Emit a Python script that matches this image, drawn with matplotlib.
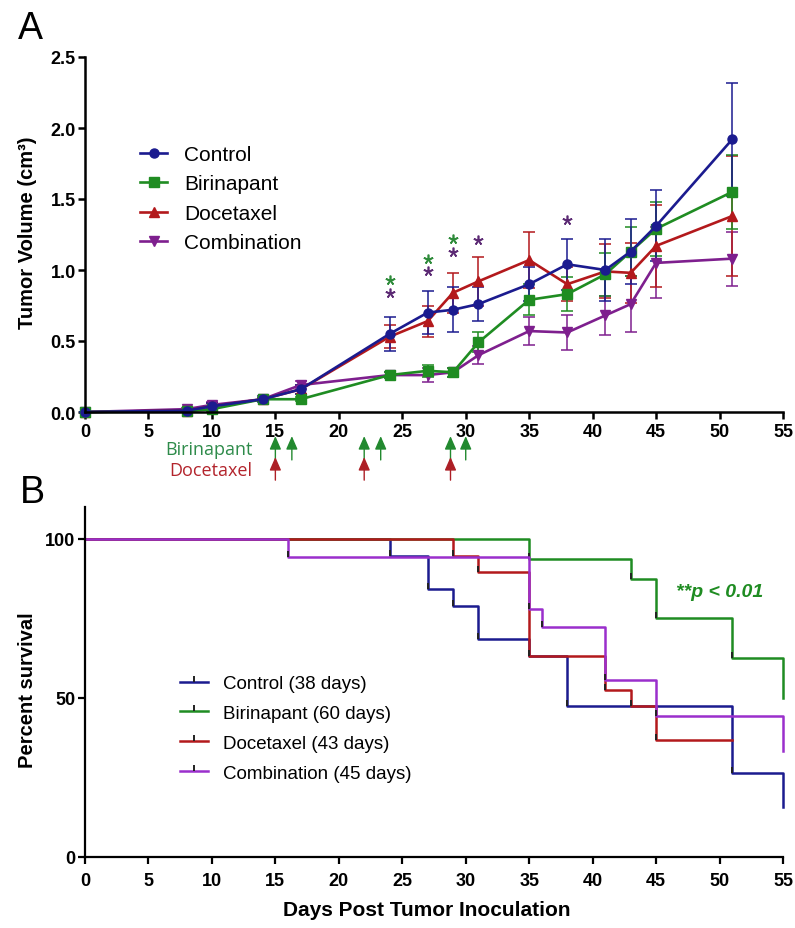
import numpy as np
import matplotlib
matplotlib.use('Agg')
import matplotlib.pyplot as plt
from matplotlib.lines import Line2D

plt.rcParams['font.family'] = ['Liberation Sans', 'DejaVu Sans']

###########################
# Panel A - tumor volumes #
###########################
days = [0, 8, 10, 14, 17, 24, 27, 29, 31, 35, 38, 41, 43, 45, 51]

ctrl = [0, 0.01, 0.04, 0.09, 0.16, 0.55, 0.70, 0.72, 0.76, 0.90, 1.04, 1.00, 1.13, 1.31, 1.92]
ctrl_err = [0, 0.01, 0.02, 0.02, 0.03, 0.12, 0.15, 0.16, 0.12, 0.12, 0.18, 0.22, 0.23, 0.25, 0.40]

biri = [0, 0.005, 0.02, 0.09, 0.09, 0.26, 0.29, 0.28, 0.49, 0.79, 0.83, 0.97, 1.13, 1.29, 1.55]
biri_err = [0, 0.005, 0.01, 0.01, 0.015, 0.02, 0.04, 0.03, 0.07, 0.11, 0.12, 0.15, 0.17, 0.19, 0.26]

doce = [0, 0.01, 0.04, 0.09, 0.16, 0.53, 0.64, 0.84, 0.92, 1.07, 0.90, 0.99, 0.98, 1.17, 1.38]
doce_err = [0, 0.01, 0.02, 0.01, 0.03, 0.08, 0.11, 0.14, 0.17, 0.20, 0.12, 0.19, 0.21, 0.29, 0.42]

comb = [0, 0.02, 0.05, 0.09, 0.19, 0.26, 0.26, 0.28, 0.40, 0.57, 0.56, 0.68, 0.76, 1.05, 1.08]
comb_err = [0, 0.01, 0.02, 0.01, 0.03, 0.02, 0.05, 0.03, 0.065, 0.10, 0.12, 0.14, 0.20, 0.25, 0.19]

# significance stars (day, height)
star_green_x = [24, 27, 29]
star_green_y = [0.93, 1.08, 1.22]
star_purple_x = [24, 27, 29, 31, 38]
star_purple_y = [0.84, 0.99, 1.13, 1.21, 1.35]

# treatment days
biri_doses = [15, 16.3, 22, 23.3, 28.8, 30]
doce_doses = [15, 22, 28.8]

###########################
# Panel B - survival (KM) #
###########################
ctrl_t = [0, 24, 27, 29, 31, 35, 38, 51, 55]
ctrl_s = [100, 94.7, 84.2, 78.9, 68.4, 63.2, 47.4, 26.3, 15.8]

biri_t = [0, 35, 43, 45, 51, 55]
biri_s = [100, 93.8, 87.5, 75.0, 62.5, 50.0]

doce_t = [0, 29, 31, 35, 41, 43, 45, 51]
doce_s = [100, 94.7, 89.5, 63.2, 52.6, 47.4, 36.8, 36.8]

comb_t = [0, 16, 35, 36, 41, 45, 55]
comb_s = [100, 94.4, 77.8, 72.2, 55.6, 44.4, 33.3]

names_A = ['Control', 'Birinapant', 'Docetaxel', 'Combination']
names_B = ['Control (38 days)', 'Birinapant (60 days)', 'Docetaxel (43 days)', 'Combination (45 days)']

c_ctrl = '#1b1b8f'
c_biri = '#1f8c22'
c_doce = '#b3191c'
c_comb = '#7e1f8e'
c_comb_b = '#9a2fcc'

W, H = 795, 929
fig = plt.figure(figsize=(W/100, H/100), dpi=100)

axA = fig.add_axes([85/W, 1 - 413/H, 698/W, 355/H])
axB = fig.add_axes([85/W, 1 - 858/H, 698/W, 350/H])

#########
# A     #
#########
series = [(comb, comb_err, c_comb, 'v'), (doce, doce_err, c_doce, '^'),
          (biri, biri_err, c_biri, 's'), (ctrl, ctrl_err, c_ctrl, 'o')]
handlesA = {}
for vals, err, col, mk in series:
    axA.errorbar(days, vals, yerr=err, color=col, marker=mk, markersize=6.5,
                 lw=1.9, elinewidth=1.1, capsize=4.5, capthick=1.1, clip_on=False)
    handlesA[col] = Line2D([], [], color=col, marker=mk, markersize=6.5, lw=1.9)

axA.set_xlim(0, 55)
axA.set_ylim(0, 2.5)
axA.set_xticks(np.arange(0, 56, 5))
axA.set_yticks(np.arange(0, 2.51, 0.5))
axA.set_yticklabels(['%.1f' % v for v in np.arange(0, 2.51, 0.5)])
for s in ['top', 'right']:
    axA.spines[s].set_visible(False)
for s in ['left', 'bottom']:
    axA.spines[s].set_linewidth(1.8)
axA.tick_params(direction='out', length=5, width=1.8, labelsize=13, pad=1.5)
axA.tick_params(axis='x', pad=3)
for lab in axA.get_xticklabels() + axA.get_yticklabels():
    lab.set_fontweight('bold')
axA.set_ylabel('Tumor Volume (cm³)', fontsize=14.5, fontweight='bold', va='center')
axA.yaxis.set_label_coords(-0.0817, 0.507)

# asterisks drawn as 5-arm asterisk markers
axA.plot(star_green_x, star_green_y, ls='none', marker=(5, 2, 0), markersize=7,
         mew=1.2, color='#2e8b3a')
axA.plot(star_purple_x, star_purple_y, ls='none', marker=(5, 2, 0), markersize=7,
         mew=1.2, color='#5c2a74')

# arrows under the x axis
for x in biri_doses:
    axA.annotate('', xy=(x, -0.068), xytext=(x, -0.135), xycoords=('data', 'axes fraction'),
                 arrowprops=dict(arrowstyle='-|>,head_length=0.8,head_width=0.35',
                                 color='#22892f', lw=1, shrinkA=0, shrinkB=0),
                 annotation_clip=False)
for x in doce_doses:
    axA.annotate('', xy=(x, -0.127), xytext=(x, -0.192), xycoords=('data', 'axes fraction'),
                 arrowprops=dict(arrowstyle='-|>,head_length=0.8,head_width=0.35',
                                 color='#ad1f26', lw=1, shrinkA=0, shrinkB=0),
                 annotation_clip=False)
axA.text(13.2, -0.104, 'Birinapant', transform=axA.get_xaxis_transform(), ha='right',
         va='center', fontsize=13, color='#2e8b4a', family=['Open Sans', 'DejaVu Sans'])
axA.text(13.2, -0.163, 'Docetaxel', transform=axA.get_xaxis_transform(), ha='right',
         va='center', fontsize=13, color='#b3242c', family=['Open Sans', 'DejaVu Sans'])

axA.legend([handlesA[c_ctrl], handlesA[c_biri], handlesA[c_doce], handlesA[c_comb]],
           names_A, loc='upper left', bbox_to_anchor=(140/W, 1 - 146/H),
           bbox_transform=fig.transFigure, frameon=False, fontsize=15,
           handlelength=1.3, handletextpad=0.8, labelspacing=0.5, borderpad=0,
           borderaxespad=0)

#########
# B     #
#########
km = [(ctrl_t, ctrl_s, c_ctrl), (biri_t, biri_s, c_biri),
      (doce_t, doce_s, c_doce), (comb_t, comb_s, c_comb_b)]
tick_mark = [(0, 0), (0, 1)]
for t, sv, col in km:
    axB.step(t, sv, where='post', color=col, lw=1.8, clip_on=False)
    axB.plot(t[1:-1], sv[1:-1], ls='none', marker=tick_mark, markersize=9,
             mew=1.4, color='#222222', clip_on=False)

axB.set_xlim(0, 55)
axB.set_ylim(0, 110)
axB.set_xticks(np.arange(0, 56, 5))
axB.set_yticks([0, 50, 100])
for s in ['top', 'right']:
    axB.spines[s].set_visible(False)
for s in ['left', 'bottom']:
    axB.spines[s].set_linewidth(1.6)
axB.tick_params(direction='out', length=5, width=1.6, labelsize=13, pad=2)
axB.tick_params(axis='x', pad=6)
for lab in axB.get_xticklabels() + axB.get_yticklabels():
    lab.set_fontweight('bold')
axB.set_ylabel('Percent survival', fontsize=14.5, fontweight='bold', va='center')
axB.yaxis.set_label_coords(-0.0817, 0.48)
axB.set_xlabel('Days Post Tumor Inoculation', fontsize=15, fontweight='bold', va='center')
axB.xaxis.set_label_coords(0.489, -0.149)

axB.text(46.6, 82, '**p < 0.01', ha='left', va='baseline', fontsize=14,
         fontweight='bold', fontstyle='italic', color='#1f8c22')

handlesB = [Line2D([], [], color=c, lw=1.8, marker=tick_mark, markersize=9, mew=1.4,
                   markeredgecolor='#222222') for c in [c_ctrl, c_biri, c_doce, c_comb_b]]
axB.legend(handlesB, names_B, loc='upper left', bbox_to_anchor=(180/W, 1 - 676/H),
           bbox_transform=fig.transFigure, frameon=False, fontsize=13.5,
           handlelength=1.5, handletextpad=0.8, labelspacing=0.68, borderpad=0,
           borderaxespad=0)

# panel letters
fig.text(18/W, 1 - 39/H, 'A', fontsize=27, ha='left', va='baseline')
fig.text(20/W, 1 - 503/H, 'B', fontsize=27, ha='left', va='baseline')

fig.savefig('out.png', dpi=100)
